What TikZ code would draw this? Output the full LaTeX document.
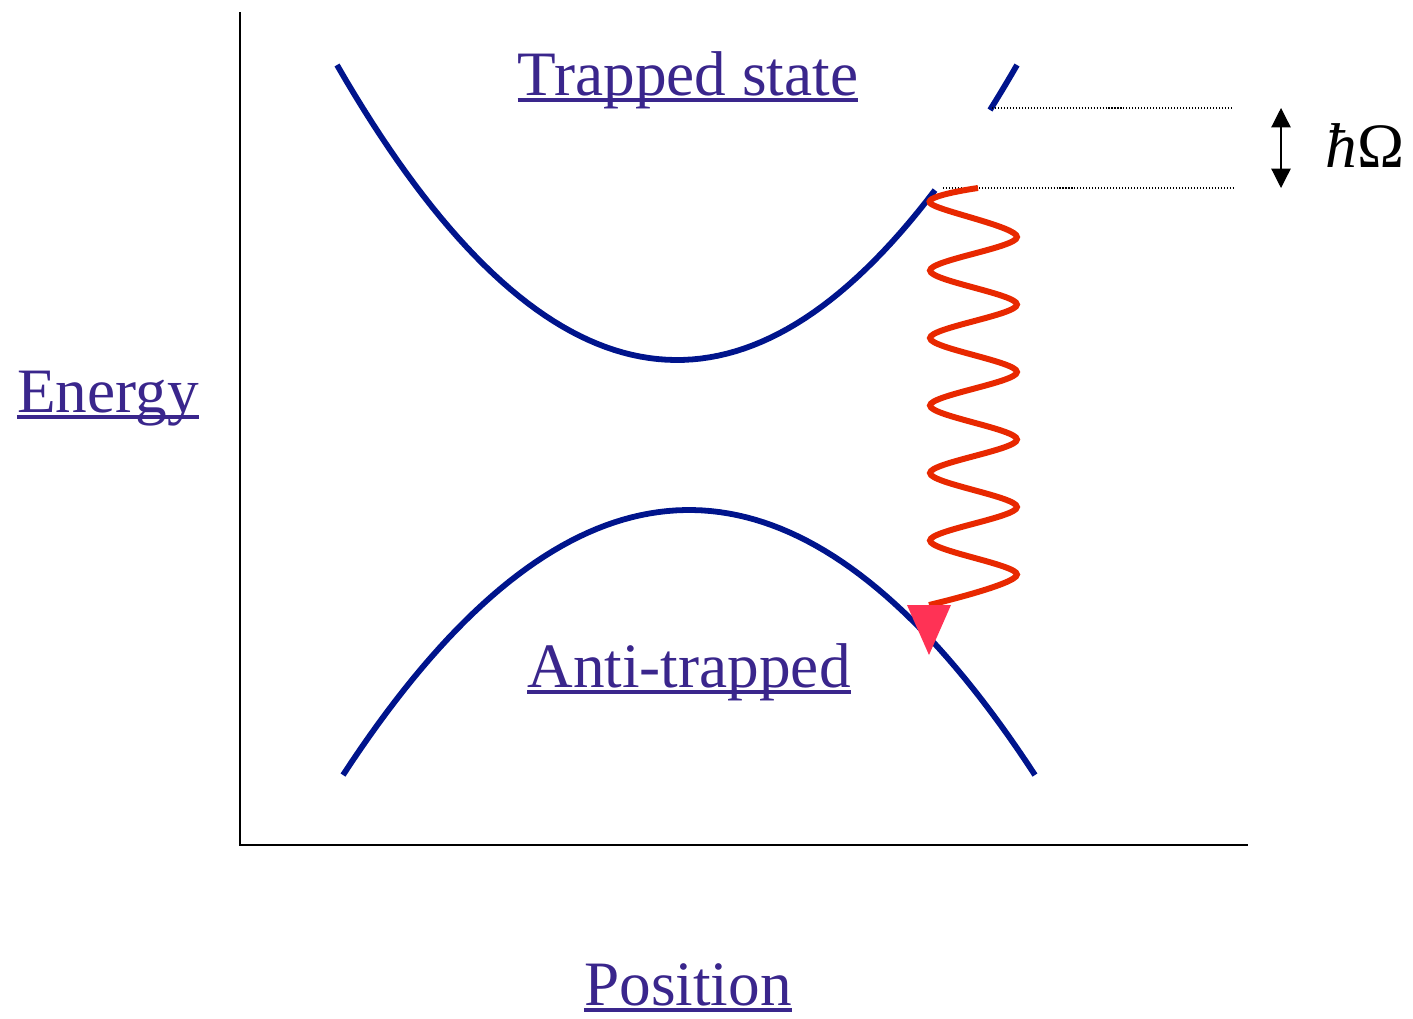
\documentclass[tikz,border=0pt]{standalone}
\usepackage{fontspec}
\setmainfont{Liberation Serif}
\usetikzlibrary{arrows.meta}
\definecolor{cCurve}{RGB}{0,20,140}
\definecolor{cWave}{RGB}{232,40,0}
\definecolor{cTip}{RGB}{255,50,85}
\definecolor{cLabel}{RGB}{58,38,140}
\tikzset{
	axis/.style={line width=1.1pt, draw=black},
	curve/.style={line width=3.3pt, draw=cCurve},
	wave/.style={line width=3.4pt, draw=cWave},
	lvl/.style={line width=0.6pt, dash pattern=on 0.6pt off 1.1pt},
	gaparr/.style={{Triangle[length=11pt,width=11pt]}-{Triangle[length=11pt,width=11pt]},
		line width=0.7pt},
	lbl/.style={text=cLabel, inner sep=0pt, anchor=base,
		font=\fontsize{36}{40}\selectfont},
	uline/.style={draw=cLabel, line width=2.3pt},
}

\begin{document}
\begin{tikzpicture}[x=0.02cm, y=-0.02cm]
	\useasboundingbox (0,0) rectangle (1413,1018);

	% Axes
	\coordinate (ytop)   at (240,12);
	\coordinate (origin) at (240,845);
	\coordinate (xend)   at (1248,845);
	\draw[axis] (ytop) -- (origin) -- (xend);

	% Trapped state (upper band, cut between the two levels)
	\draw[curve] plot[domain=337:935, samples=70] (\x, {360-25.52*((\x-677)/100)^2});
	\draw[curve] plot[domain=990:1017, samples=6] (\x, {360-25.52*((\x-677)/100)^2});

	% Anti-trapped (lower band)
	\draw[curve] plot[domain=343:1035, samples=80] (\x, {510+22.14*((\x-689)/100)^2});

	% Levels and gap
	\coordinate (lvlhi) at (992,108);
	\coordinate (lvllo) at (943,188);
	\coordinate (hiend) at (1232,108);
	\coordinate (loend) at (1233,188);
	\draw[lvl] (lvlhi) -- (hiend);
	\draw[lvl] (lvllo) -- (loend);
	\coordinate (gaptop) at (1281,108);
	\coordinate (gapbot) at (1281,188);
	\draw[gaparr] (gaptop) -- (gapbot);
	\node[anchor=base, inner sep=0pt, font=\fontsize{36}{40}\selectfont] at (1365,167) (gaplbl) {\textit{ħ}Ω};

	% Emitted photon
	\coordinate (wend) at (929,605);
	\draw[wave] plot[smooth, tension=0.55] coordinates {
		(978,188) (930,203) (1017,237) (930,270.5) (1017,304.5) (930,338)
		(1017,372) (930,405.5) (1017,439.5) (930,473) (1017,507) (930,540.5)
		(1017,574.5) (929,605)};
	\fill[cTip] (wend) ++(-22,0) -- ++(44,0) -- ++(-22,50) -- cycle;

	% Labels
	\node[lbl] at (688,95)   (trapped)  {Trapped state};
	\node[lbl] at (689,687)  (antitrap) {Anti-trapped};
	\node[lbl] at (108,412)  (ytitle)   {Energy};
	\node[lbl] at (688,1005) (xtitle)   {Position};
	\foreach \n in {trapped,antitrap,ytitle,xtitle}
		\draw[uline] ([yshift=-2.9pt]\n.base west) -- ([yshift=-2.9pt]\n.base east);
\end{tikzpicture}
\end{document}
